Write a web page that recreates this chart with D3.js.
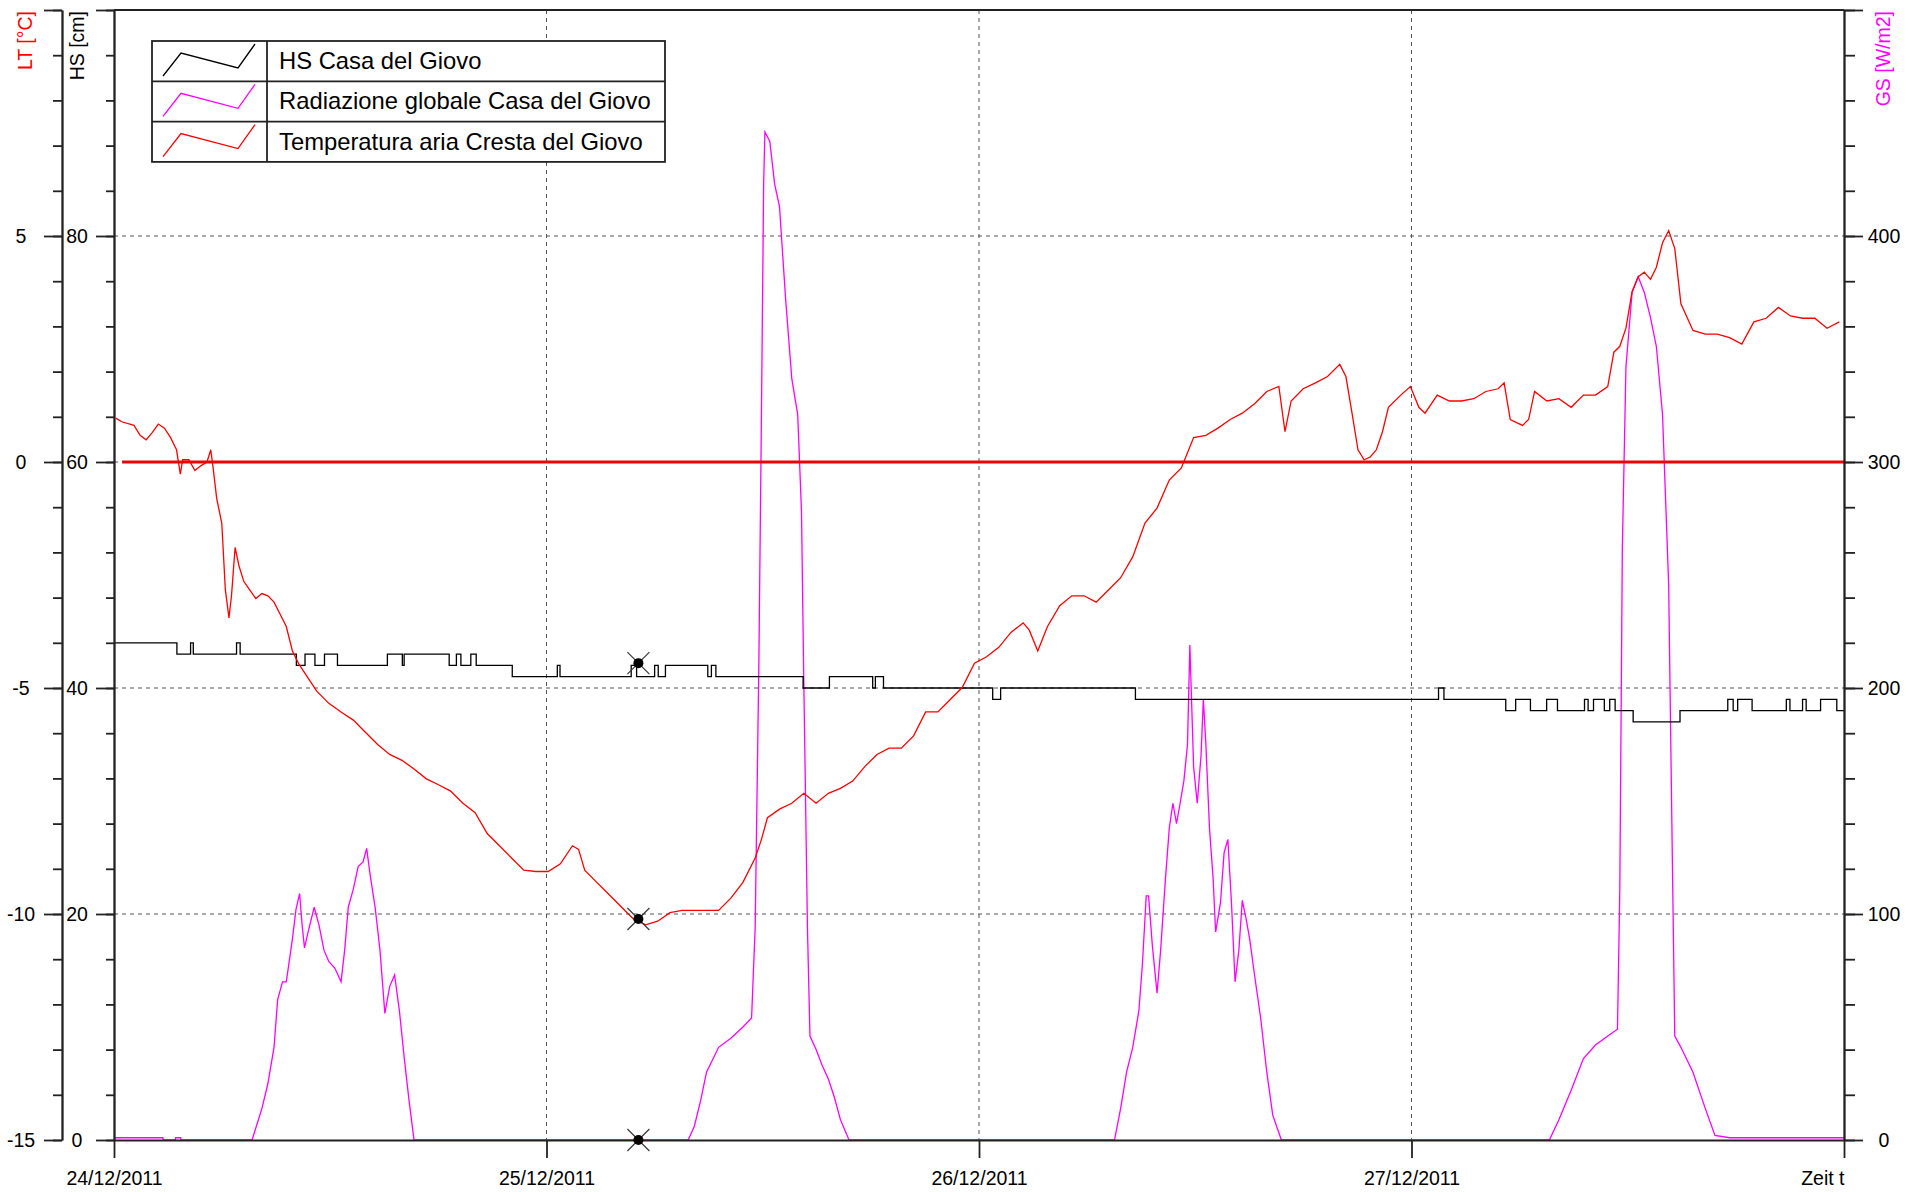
<!DOCTYPE html>
<html>
<head>
<meta charset="utf-8">
<script src="https://cdn.jsdelivr.net/npm/d3@7"></script>
<style>
  body { margin: 0; background: #fff; }
  svg text { font-family: "Liberation Sans", Arial, sans-serif; }
</style>
</head>
<body>
<svg id="chart" width="1910" height="1192"></svg>
<script>
// hours since 24/12/2011 00:00
var dayLabels = ["24/12/2011", "25/12/2011", "26/12/2011", "27/12/2011", "Zeit t"];
var dayHours = [0, 24, 48, 72, 96];

// Temperatura aria Cresta del Giovo [°C]
var ltData = [
  [0.1,0.97],[0.43,0.89],[1.11,0.81],[1.45,0.59],[1.78,0.49],[2.12,0.65],[2.46,0.84],[2.80,0.75],
  [3.14,0.54],[3.47,0.27],[3.68,-0.27],[3.81,0.05],[4.15,0.05],[4.49,-0.19],[4.83,-0.08],[5.16,0],
  [5.37,0.27],[5.50,-0.13],[5.70,-0.81],[5.98,-1.35],[6.18,-2.83],[6.38,-3.45],[6.52,-2.96],[6.72,-1.89],
  [6.93,-2.29],[7.20,-2.64],[7.53,-2.83],[7.87,-3.02],[8.21,-2.91],[8.54,-2.96],[8.88,-3.10],[9.22,-3.37],
  [9.56,-3.64],[9.90,-4.18],[10.23,-4.45],[10.57,-4.66],[11.25,-5.07],[11.92,-5.34],[12.60,-5.53],
  [13.28,-5.71],[13.95,-5.98],[14.63,-6.25],[15.30,-6.47],[15.98,-6.60],[16.65,-6.79],[17.33,-7.01],
  [18.01,-7.14],[18.68,-7.28],[19.36,-7.55],[20.04,-7.76],[20.71,-8.22],[21.39,-8.49],[22.06,-8.76],
  [22.74,-9.03],[23.41,-9.06],[24.09,-9.06],[24.77,-8.89],[25.44,-8.49],[25.78,-8.57],[26.12,-9.03],
  [26.79,-9.30],[27.47,-9.57],[28.14,-9.84],[28.82,-10.11],[29.50,-10.24],[30.17,-10.16],[30.85,-9.97],
  [31.52,-9.92],[32.20,-9.92],[32.88,-9.92],[33.55,-9.92],[34.23,-9.65],[34.90,-9.30],[35.58,-8.76],
  [35.92,-8.36],[36.26,-7.87],[36.93,-7.68],[37.61,-7.55],[38.28,-7.33],[38.96,-7.55],[39.64,-7.33],
  [40.31,-7.22],[40.99,-7.06],[41.66,-6.74],[42.34,-6.47],[43.01,-6.33],[43.69,-6.33],[44.37,-6.06],
  [45.04,-5.53],[45.72,-5.53],[46.39,-5.26],[47.07,-4.99],[47.75,-4.45],[48.42,-4.31],[49.10,-4.10],
  [49.77,-3.77],[50.45,-3.56],[50.79,-3.72],[51.26,-4.18],[51.80,-3.64],[52.48,-3.18],[53.15,-2.96],
  [53.83,-2.96],[54.50,-3.10],[55.18,-2.83],[55.86,-2.56],[56.53,-2.10],[57.21,-1.35],[57.88,-1.02],
  [58.56,-0.40],[59.23,-0.13],[59.91,0.54],[60.59,0.59],[61.26,0.75],[61.94,0.94],[62.61,1.08],
  [63.29,1.29],[63.97,1.56],[64.64,1.67],[64.98,0.67],[65.32,1.35],[65.99,1.62],[66.67,1.75],
  [67.34,1.89],[68.02,2.16],[68.36,1.89],[68.70,1.08],[69.03,0.27],[69.37,0.05],[69.71,0.11],
  [70.05,0.27],[70.39,0.67],[70.72,1.21],[71.40,1.48],[71.94,1.67],[72.41,1.21],[72.75,1.08],
  [73.43,1.48],[74.10,1.35],[74.78,1.35],[75.45,1.40],[76.13,1.56],[76.81,1.62],[77.14,1.75],
  [77.48,0.94],[78.16,0.81],[78.50,0.94],[78.83,1.56],[79.51,1.35],[80.18,1.40],[80.86,1.21],
  [81.54,1.48],[82.21,1.48],[82.89,1.67],[83.23,2.43],[83.56,2.56],[83.90,2.96],[84.24,3.77],
  [84.58,4.10],[84.92,4.20],[85.26,4.04],[85.59,4.31],[85.93,4.85],[86.27,5.12],[86.61,4.72],
  [86.95,3.50],[87.62,2.91],[88.30,2.83],[88.97,2.83],[89.65,2.75],[90.33,2.61],[91.00,3.10],
  [91.68,3.18],[92.36,3.42],[93.03,3.23],[93.71,3.18],[94.38,3.18],[95.06,2.96],[95.74,3.10]
];

// HS Casa del Giovo [cm], step values
var hsData = [
  [0,44],[3.49,43],[4.25,44],[4.4,43],[6.8,44],[7.0,43],[10.12,42],[10.6,43],[11.15,42],[11.68,43],
  [12.4,42],[15.17,43],[16.0,42],[16.1,43],[18.6,42],[19.0,43],[19.25,42],[19.8,43],[20.1,42],
  [22.1,41],[24.6,42],[24.75,41],[28.7,42],[29.0,41],[30.0,42],[30.2,41],[30.6,42],[32.95,41],
  [33.15,42],[33.4,41],[38.24,40],[39.7,41],[42.1,40],[42.25,41],[42.7,40],[48.76,39],[49.2,40],
  [56.68,39],[73.5,40],[73.8,39],[77.23,38],[77.78,39],[78.6,38],[79.5,39],[80.1,38],[81.6,39],
  [81.8,38],[82.1,39],[82.7,38],[83.0,39],[83.3,38],[84.3,37],[86.9,38],[89.55,39],[89.85,38],
  [90.1,39],[90.9,38],[92.8,39],[93.0,38],[93.7,39],[93.9,38],[94.7,39],[95.6,38],[96,38]
];

// Radiazione globale Casa del Giovo [W/m2]
var gsData = [
  [0,1],[2.7,1],[2.75,0],[3.4,0],[3.42,1],[3.7,1],[3.72,0],
  [7.66,0],[8.21,14],[8.54,25],[8.88,41],[9.08,62],[9.35,70],[9.56,70],[9.76,81],[9.90,89],
  [10.10,102],[10.30,109],[10.44,95],[10.57,85],[10.77,92],[11.11,103],[11.38,95],[11.65,84],
  [11.92,79],[12.26,76],[12.60,70],[12.80,84],[13.00,103],[13.28,111],[13.55,121],[13.82,123],
  [14.02,129],[14.22,117],[14.49,103],[14.76,84],[15.03,56],[15.30,68],[15.57,73],[15.84,57],
  [16.11,36],[16.38,17],[16.65,0],
  [31.86,0],[32.20,6],[32.54,17],[32.88,30],[33.55,41],[34.23,45],[34.90,50],[35.38,54],
  [35.58,94],[35.78,208],[35.92,315],[36.05,423],[36.12,446],[36.39,442],[36.66,423],[36.93,413],
  [37.27,372],[37.61,337],[37.94,321],[38.15,278],[38.28,202],[38.48,94],[38.62,46],[38.96,40],
  [39.30,33],[39.64,27],[39.97,19],[40.31,9],[40.79,0],
  [55.52,0],[55.86,14],[56.19,30],[56.53,41],[56.87,57],[57.07,78],[57.28,108],[57.41,108],
  [57.62,86],[57.88,65],[58.08,84],[58.35,116],[58.56,138],[58.76,149],[58.96,140],[59.16,149],
  [59.37,159],[59.57,175],[59.70,219],[59.91,165],[60.11,149],[60.32,170],[60.45,195],[60.59,175],
  [60.79,138],[60.99,116],[61.13,92],[61.40,105],[61.60,127],[61.81,133],[62.01,105],[62.21,70],
  [62.42,84],[62.61,106],[62.82,98],[63.02,89],[63.29,73],[63.63,54],[63.97,30],[64.30,11],[64.78,0],
  [79.65,0],[80.18,9],[80.86,22],[81.54,36],[82.21,42],[82.89,46],[83.43,49],[83.56,111],
  [83.70,262],[83.90,342],[84.24,375],[84.58,382],[84.92,375],[85.26,364],[85.59,351],[85.93,321],
  [86.27,246],[86.47,127],[86.61,46],[86.95,41],[87.62,30],[88.30,14],[88.84,2],[89.65,1],[96,1]
];

var frostLine = { value: 0, from: 0.45, to: 96 };
var cursorHour = 29.1;
var cursorValues = [["hs", 42.2], ["lt", -10.11], ["gs", 0]];

var legendLabels = ["HS Casa del Giovo", "Radiazione globale Casa del Giovo", "Temperatura aria Cresta del Giovo"];
var legendColors = ["#000000", "#ff00ff", "#ff0000"];

var axisColor = "#222";
var plotLeft = 114, plotRight = 1844, plotTop = 10, plotBottom = 1140;

var svg = d3.select("#chart");

var x = d3.scaleLinear().domain([0, 96]).range([plotLeft, plotRight]);
var yLT = d3.scaleLinear().domain([-15, 10]).range([plotBottom, plotTop]);
var yHS = d3.scaleLinear().domain([0, 100]).range([plotBottom, plotTop]);
var yGS = d3.scaleLinear().domain([0, 500]).range([plotBottom, plotTop]);
var scales = { lt: yLT, hs: yHS, gs: yGS };

// gridlines
var grid = svg.append("g").attr("stroke", "#555").attr("stroke-dasharray", "4,4").attr("stroke-width", 1);
grid.selectAll(".gh").data([5, 0, -5, -10]).enter().append("line")
  .attr("x1", plotLeft).attr("x2", plotRight)
  .attr("y1", function (d) { return yLT(d); }).attr("y2", function (d) { return yLT(d); });
grid.selectAll(".gv").data(dayHours.slice(1, 4)).enter().append("line")
  .attr("y1", plotTop).attr("y2", plotBottom)
  .attr("x1", function (d) { return x(d); }).attr("x2", function (d) { return x(d); });

// series
var lineGS = d3.line().x(function (d) { return x(d[0]); }).y(function (d) { return yGS(d[1]); });
var lineHS = d3.line().x(function (d) { return x(d[0]); }).y(function (d) { return yHS(d[1]); }).curve(d3.curveStepAfter);
var lineLT = d3.line().x(function (d) { return x(d[0]); }).y(function (d) { return yLT(d[1]); });

svg.append("path").datum(gsData).attr("d", lineGS)
  .attr("fill", "none").attr("stroke", "#ff00ff").attr("stroke-width", 1.3);
svg.append("path").datum(hsData).attr("d", lineHS)
  .attr("fill", "none").attr("stroke", "#000").attr("stroke-width", 1.3);
svg.append("path").datum(ltData).attr("d", lineLT)
  .attr("fill", "none").attr("stroke", "#ff0000").attr("stroke-width", 1.3);

svg.append("line")
  .attr("x1", x(frostLine.from)).attr("x2", x(frostLine.to))
  .attr("y1", yLT(frostLine.value)).attr("y2", yLT(frostLine.value))
  .attr("stroke", "#ee0000").attr("stroke-width", 3);

// axes
function styleAxis(g) {
  g.selectAll(".domain").attr("stroke", axisColor).attr("stroke-width", 1.8);
  g.selectAll(".tick line").attr("stroke", axisColor).attr("stroke-width", 1.8);
  g.selectAll("text").attr("fill", "#000").style("font-size", "19.5px");
}
function noLabel(topValue) {
  return function (d) { return d === topValue ? "" : String(d); };
}

var ltAxis = svg.append("g").attr("transform", "translate(62,0)")
  .call(d3.axisLeft(yLT).tickValues(d3.range(-15, 11, 5)).tickSize(18).tickSizeOuter(0).tickFormat(noLabel(10)));
ltAxis.selectAll("text").attr("x", -41).attr("text-anchor", "middle");
svg.append("g").attr("transform", "translate(62,0)")
  .call(d3.axisLeft(yLT).tickValues(d3.range(-15, 11, 1)).tickSize(9).tickSizeOuter(0).tickFormat(""))
  .call(styleAxis);
styleAxis(ltAxis);

var hsAxis = svg.append("g").attr("transform", "translate(" + plotLeft + ",0)")
  .call(d3.axisLeft(yHS).tickValues(d3.range(0, 101, 20)).tickSize(18).tickSizeOuter(0).tickFormat(noLabel(100)));
hsAxis.selectAll("text").attr("x", -37).attr("text-anchor", "middle");
svg.append("g").attr("transform", "translate(" + plotLeft + ",0)")
  .call(d3.axisLeft(yHS).tickValues(d3.range(0, 101, 4)).tickSize(8).tickSizeOuter(0).tickFormat(""))
  .call(styleAxis);
styleAxis(hsAxis);

var gsAxis = svg.append("g").attr("transform", "translate(" + plotRight + ",0)")
  .call(d3.axisRight(yGS).tickValues(d3.range(0, 501, 100)).tickSize(19).tickSizeOuter(0).tickFormat(noLabel(500)));
gsAxis.selectAll("text").attr("x", 40).attr("text-anchor", "middle");
svg.append("g").attr("transform", "translate(" + plotRight + ",0)")
  .call(d3.axisRight(yGS).tickValues(d3.range(0, 501, 20)).tickSize(11).tickSizeOuter(0).tickFormat(""))
  .call(styleAxis);
styleAxis(gsAxis);

var xAxis = svg.append("g").attr("transform", "translate(0," + plotBottom + ")")
  .call(d3.axisBottom(x).tickValues(dayHours).tickSize(18).tickSizeOuter(0)
    .tickFormat(function (d, i) { return dayLabels[i]; }));
xAxis.selectAll("text").attr("y", 45).attr("dy", 0)
  .attr("text-anchor", function (d, i) { return i === dayHours.length - 1 ? "end" : "middle"; });
styleAxis(xAxis);

// top frame line
svg.append("line").attr("x1", plotLeft).attr("x2", plotRight).attr("y1", plotTop).attr("y2", plotTop)
  .attr("stroke", axisColor).attr("stroke-width", 1.8);

// axis titles
function axisTitle(tx, label, color) {
  svg.append("text")
    .attr("transform", "translate(" + tx + "," + (plotTop + 1) + ") rotate(-90)")
    .attr("text-anchor", "end").attr("dy", "0.35em")
    .attr("fill", color).style("font-size", "19.5px")
    .text(label);
}
axisTitle(25, "LT [°C]", "#ff0000");
axisTitle(77, "HS [cm]", "#000");
axisTitle(1883, "GS [W/m2]", "#ff00ff");

// cursor markers
var marks = svg.append("g");
cursorValues.forEach(function (c) {
  var cx = x(cursorHour), cy = scales[c[0]](c[1]);
  marks.append("line").attr("x1", cx - 11).attr("y1", cy - 11).attr("x2", cx + 11).attr("y2", cy + 11)
    .attr("stroke", "#333").attr("stroke-width", 1.2);
  marks.append("line").attr("x1", cx - 11).attr("y1", cy + 11).attr("x2", cx + 11).attr("y2", cy - 11)
    .attr("stroke", "#333").attr("stroke-width", 1.2);
  marks.append("circle").attr("cx", cx).attr("cy", cy).attr("r", 5).attr("fill", "#000");
});

// legend
var lgX = 152, lgY = 41, lgW = 513, rowH = 40.3, iconW = 115;
var legend = svg.append("g");
legend.append("rect").attr("x", lgX).attr("y", lgY).attr("width", lgW).attr("height", rowH * 3)
  .attr("fill", "#fff").attr("stroke", axisColor).attr("stroke-width", 1.8);
legend.append("line").attr("x1", lgX + iconW).attr("x2", lgX + iconW)
  .attr("y1", lgY).attr("y2", lgY + rowH * 3).attr("stroke", axisColor).attr("stroke-width", 1.8);
legendLabels.forEach(function (label, i) {
  var ry = lgY + i * rowH;
  if (i > 0) {
    legend.append("line").attr("x1", lgX).attr("x2", lgX + lgW).attr("y1", ry).attr("y2", ry)
      .attr("stroke", axisColor).attr("stroke-width", 1.8);
  }
  var pts = [[11, 35], [29, 12], [86, 27], [103, 3]].map(function (p) { return [lgX + p[0], ry + p[1]]; });
  legend.append("path").attr("d", d3.line()(pts)).attr("fill", "none")
    .attr("stroke", legendColors[i]).attr("stroke-width", 1.3);
  legend.append("text").attr("x", lgX + iconW + 12).attr("y", ry + 28)
    .style("font-size", "23.8px").attr("fill", "#000").text(label);
});
</script>
</body>
</html>
